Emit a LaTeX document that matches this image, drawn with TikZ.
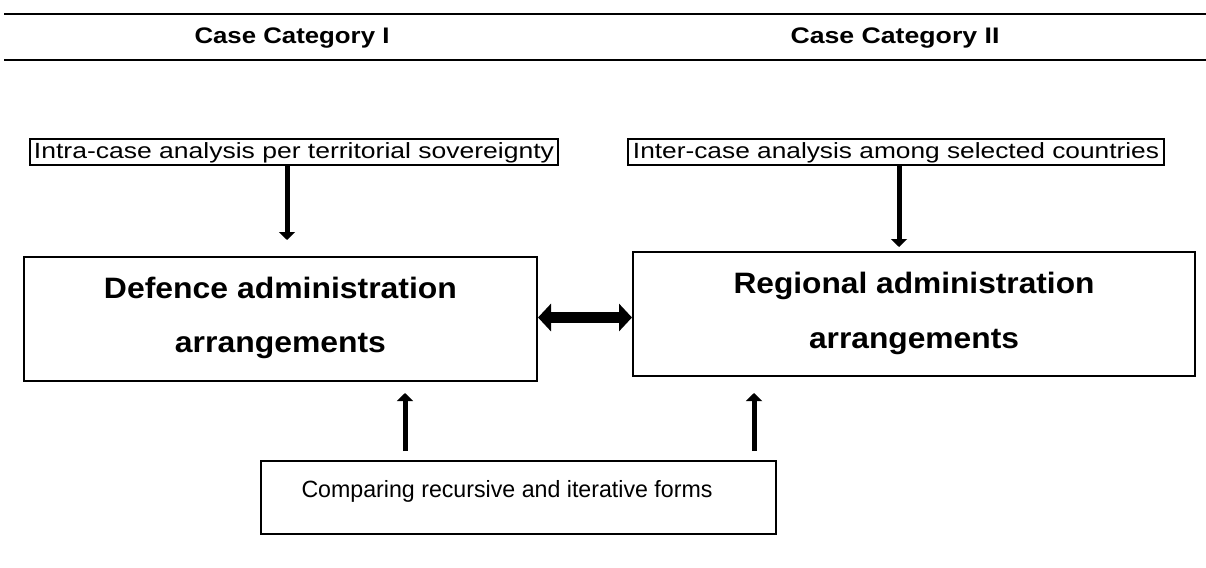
\documentclass[tikz,border=0pt]{standalone}
\usepackage{fontspec}
\usepackage{graphicx}
\setmainfont{Liberation Sans}
\usetikzlibrary{arrows.meta}
\newcommand{\wfit}[2]{\resizebox{#1}{\height}{#2}}
\begin{document}
\begin{tikzpicture}[x=1pt,y=-1pt,
  rule/.style={line width=2.5pt},
  head/.style={font=\fontsize{22.5}{26}\selectfont\bfseries, inner sep=0pt, anchor=base},
  small/.style={draw, line width=1.8pt, font=\fontsize{22}{25}\selectfont, inner sep=0pt, anchor=base, text height=19pt, text depth=7pt},
  bigbox/.style={draw, line width=2pt, inner sep=0pt},
  bigtext/.style={font=\fontsize{29.5}{33}\selectfont\bfseries, inner sep=0pt, anchor=base},
  thinarrow/.style={line width=5pt, -{Triangle[width=16pt,length=8pt]}},
  fatarrow/.style={line width=11pt, {Triangle[width=27pt,length=13pt]}-{Triangle[width=27pt,length=13pt]}}]
\useasboundingbox (0,0) rectangle (1206,567);
\coordinate (l1a) at (4,14);
\coordinate (l1b) at (1206,14);
\coordinate (l2a) at (4,60);
\coordinate (l2b) at (1206,60);
\draw[rule] (l1a) -- (l1b);
\draw[rule] (l2a) -- (l2b);
\node[head] (h1) at (292,44) {\wfit{195pt}{Case Category I}};
\node[head] (h2) at (895,44) {\wfit{209pt}{Case Category II}};
\node[small, minimum width=528pt] (t1) at (294,158) {\wfit{520pt}{Intra-case analysis per territorial sovereignty}};
\node[small, minimum width=536pt] (t2) at (896,158) {\wfit{526pt}{Inter-case analysis among selected countries}};
\node[bigbox, minimum width=513pt, minimum height=124pt] (d) at (280.5,319) {};
\node[bigtext] (d1) at (280.5,298) {\wfit{353pt}{Defence administration}};
\node[bigtext] (d2) at (280.5,352) {\wfit{211pt}{arrangements}};
\node[bigbox, minimum width=562pt, minimum height=124pt] (r) at (914,314) {};
\node[bigtext] (r1) at (914,293) {\wfit{361pt}{Regional administration}};
\node[bigtext] (r2) at (914,348) {\wfit{210pt}{arrangements}};
\node[bigbox, minimum width=515pt, minimum height=73pt] (c) at (518.5,497.5) {};
\node[font=\fontsize{23.5}{27}\selectfont, inner sep=0pt, anchor=base] (ct) at (507,497) {\wfit{411pt}{Comparing recursive and iterative forms}};
\coordinate (a1e) at (287,240);
\coordinate (a2e) at (899,247);
\draw[thinarrow] (t1.south -| a1e) -- (a1e);
\draw[thinarrow] (t2.south -| a2e) -- (a2e);
\coordinate (dl) at (537,317.5);
\coordinate (dr) at (633,317.5);
\draw[fatarrow] (d.east |- dl) -- (r.west |- dr);
\coordinate (u1e) at (405,393);
\coordinate (u2e) at (754,393);
\coordinate (u1s) at (405,451);
\coordinate (u2s) at (754,451);
\draw[thinarrow] (u1s) -- (u1e);
\draw[thinarrow] (u2s) -- (u2e);
\end{tikzpicture}
\end{document}
